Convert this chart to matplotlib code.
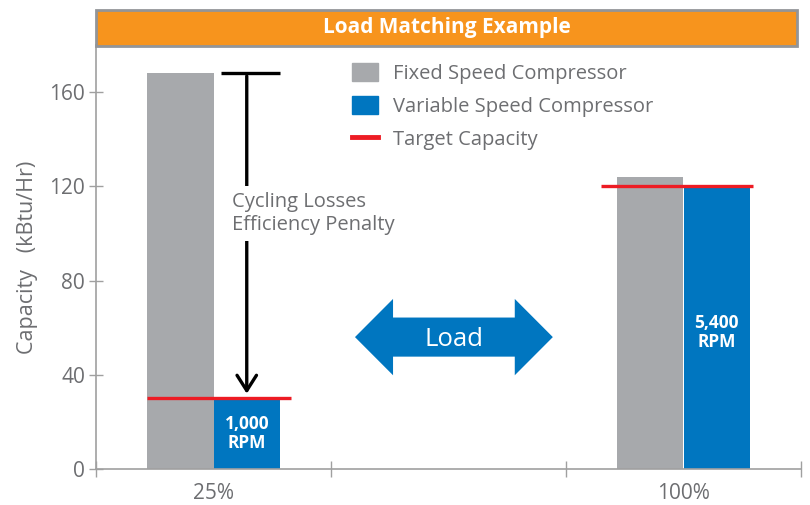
import numpy as np
import matplotlib.pyplot as plt
import matplotlib.patches as mpatches
from matplotlib.lines import Line2D

# DATA
categories = ['25%', '100%']
fixed_speed = [168, 124]       # kBtu/Hr
variable_speed = [30, 120]     # kBtu/Hr
target = [30, 120]
rpm_labels = ['1,000\nRPM', '5,400\nRPM']
rpm_label_y = [15, 58]
target_span = [(-0.283, 0.33), (-0.351, 0.296)]   # line ends relative to category centre
yticks = [0, 40, 80, 120, 160]

GRAY = '#A7A9AC'
BLUE = '#0076C0'
RED = '#ED1C24'
ORANGE = '#F7941D'
TXT = '#6D6E71'
AX = '#A0A0A0'

plt.rcParams['font.family'] = ['Open Sans', 'DejaVu Sans']

fig = plt.figure(figsize=(8.1, 5.05), dpi=100)
ax = fig.add_axes([96/810, 36/505, 705/810, 424/505])

xc = np.array([0.5, 2.5])
w = 0.283
ax.bar(xc - w/2, fixed_speed, w, color=GRAY, zorder=2)
ax.bar(xc + w/2, variable_speed, w, color=BLUE, zorder=2)
for x, t, (a, b) in zip(xc, target, target_span):
    ax.hlines(t, x + a, x + b, color=RED, lw=2.4, zorder=4)
for x, lab, y in zip(xc, rpm_labels, rpm_label_y):
    ax.text(x + w/2, y, lab, color='white', fontsize=12.5, fontweight='bold',
            ha='center', va='center', linespacing=1.1, zorder=5)

# cycling loss arrow
ax.hlines(fixed_speed[0], 0.532, 0.783, color='black', lw=2.4, zorder=3)
ax.annotate('', xy=(xc[0] + w/2, target[0] + 0.8), xytext=(xc[0] + w/2, fixed_speed[0]),
            arrowprops=dict(arrowstyle='->,head_length=0.55,head_width=0.35',
                            color='black', lw=2.4, mutation_scale=20), zorder=3)
ax.text(0.577, 108.5, 'Cycling Losses\nEfficiency Penalty', color=TXT, fontsize=14.5,
        ha='left', va='center', linespacing=1.2, zorder=4,
        bbox=dict(facecolor='white', edgecolor='none', pad=4))

# Load double arrow
cx, cy = 1.523, 56
half_len, head_len = 0.421, 0.162
shaft_h, head_h = 8.3, 16.2
poly = [(cx - half_len, cy), (cx - half_len + head_len, cy + head_h),
        (cx - half_len + head_len, cy + shaft_h), (cx + half_len - head_len, cy + shaft_h),
        (cx + half_len - head_len, cy + head_h), (cx + half_len, cy),
        (cx + half_len - head_len, cy - head_h), (cx + half_len - head_len, cy - shaft_h),
        (cx - half_len + head_len, cy - shaft_h), (cx - half_len + head_len, cy - head_h)]
ax.add_patch(mpatches.Polygon(poly, closed=True, facecolor=BLUE, edgecolor='none', zorder=3))
ax.text(cx, cy - 1, 'Load', color='white', fontsize=18.5, ha='center', va='center', zorder=4)

# axes styling
ax.set_xlim(0, 3)
ax.set_ylim(0, 180)
ax.set_yticks(yticks)
ax.set_xticks([0, 1, 2, 3])
ax.set_xticklabels([])
ax.set_xticks(xc, minor=True)
ax.set_xticklabels(categories, minor=True)
ax.tick_params(axis='x', which='major', direction='inout', length=12, width=1, color=AX)
ax.tick_params(axis='x', which='minor', length=0, pad=10, labelsize=15, labelcolor=TXT)
ax.tick_params(axis='y', direction='inout', length=10, width=1, color=AX,
               labelsize=15, labelcolor=TXT, pad=3)
for s in ['top', 'right']:
    ax.spines[s].set_visible(False)
for s in ['left', 'bottom']:
    ax.spines[s].set_color(AX)
    ax.spines[s].set_linewidth(1.2)
ax.set_ylabel('Capacity   (kBtu/Hr)', color=TXT, fontsize=15.5, labelpad=8)

# legend
handles = [mpatches.Patch(color=GRAY, label='Fixed Speed Compressor'),
           mpatches.Patch(color=BLUE, label='Variable Speed Compressor'),
           Line2D([], [], color=RED, lw=3.5, label='Target Capacity')]
leg = ax.legend(handles=handles, loc='upper left', bbox_to_anchor=(352/810, 1 - 63/505),
                bbox_transform=fig.transFigure, frameon=False, fontsize=14.5,
                handlelength=1.3, handleheight=1.0, handletextpad=0.72, labelspacing=0.6,
                borderpad=0, borderaxespad=0)
for t in leg.get_texts():
    t.set_color(TXT)

# title banner
fig.patches.append(mpatches.Rectangle((96/810, 1 - 45.5/505), 701/810, 35.5/505,
                                      transform=fig.transFigure, facecolor=ORANGE,
                                      edgecolor='#939598', lw=2, zorder=5))
fig.text((96 + 797)/2/810, 1 - 28/505, 'Load Matching Example', color='white',
         fontsize=15, fontweight='bold', ha='center', va='center', zorder=6,
         family=['Liberation Sans Narrow', 'Open Sans', 'DejaVu Sans'])

fig.savefig('out.png', dpi=100)
